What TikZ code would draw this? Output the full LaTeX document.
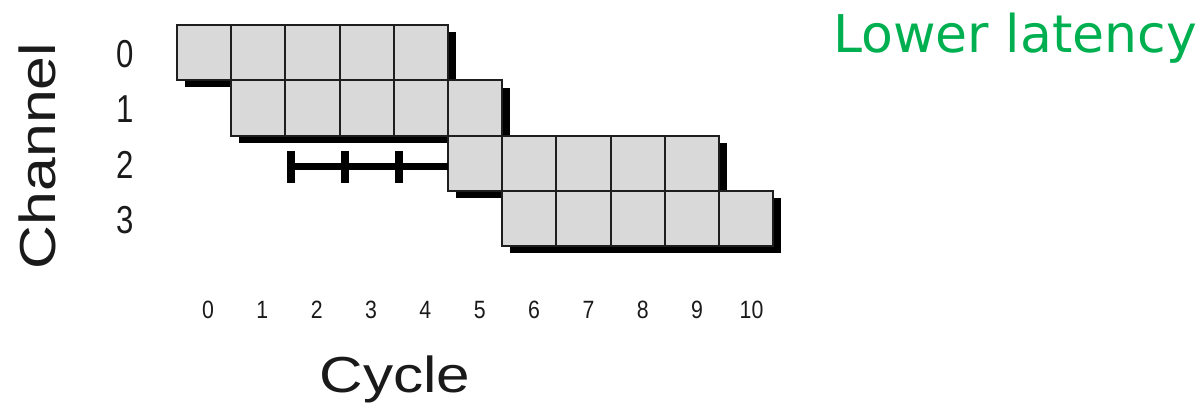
\documentclass[tikz,border=0pt]{standalone}
\usepackage{fontspec}
\setmainfont{Liberation Sans}
\newfontfamily\verdanalike{DejaVu Sans}
\usepackage{tikz}
\usepackage{xcolor}
\usetikzlibrary{shadows,calc}
\definecolor{cellgray} {HTML}{D9D9D9}
\definecolor{cellline} {HTML}{1E1E1E}
\definecolor{lowgreen} {HTML}{00B050}
\definecolor{lblink}   {HTML}{1A1A1A}
\tikzset{
  cellbox/.style  ={draw=cellline, fill=cellgray, line width=1.5pt,
                    minimum width=1.355cm, minimum height=1.38cm,
                    inner sep=0pt, outer sep=0pt,
                    drop shadow={shadow xshift=0.2cm, shadow yshift=-0.18cm,
                                 fill=black, opacity=1}},
  chanlbl/.style  ={font=\fontsize{27.7}{30}\selectfont, inner sep=0pt, text=lblink},
  cyclbl/.style   ={font=\fontsize{17.8}{20}\selectfont, inner sep=0pt, text=lblink},
  axislbl/.style  ={font=\fontsize{36}{40}\selectfont, inner sep=0pt, text=lblink},
  latbar/.style   ={line width=0.175cm, color=black},
  tickbar/.style  ={line width=0.2cm, color=black},
}

\begin{document}
\begin{tikzpicture}[x=0.025cm,y=-0.025cm]
  \useasboundingbox (0,0) rectangle (1201,402);
  % channel rows: row/first cycle
  \foreach \r/\s in {0/0,1/1,2/5,3/6}{
    \node[chanlbl] (ch-\r) at (125,{54+55.3*\r}) {\scalebox{0.8}[1]{\r}};
    \foreach \k in {0,...,4}{
      \pgfmathtruncatemacro{\c}{\s+\k}
      \node[cellbox] (cell-\r-\c) at ({177+54.2*(\c+0.5)},{25+55.3*\r+27.65}) {};
    }
  }
  % cycle numbers
  \foreach \c in {0,...,10}
    \node[cyclbl] (cyc-\c) at ({208+54.35*\c},310) {\scalebox{0.85}[1]{\c}};
  % latency bar in row 2
  \coordinate (barstart) at (291,166);
  \draw[latbar] (barstart) -- (barstart -| cell-2-5.west);
  \foreach \t in {291,345,399}
    \draw[tickbar] (\t,151) -- (\t,183);
  % axis titles
  \node[axislbl, rotate=90] (chantitle) at (37,156) {\scalebox{1.2}[1]{Channel}};
  \node[axislbl, anchor=base] (cyctitle) at (395,392) {\scalebox{1.19}[1]{Cycle}};
  \node[anchor=base west, inner sep=0pt, text=lowgreen,
        font=\verdanalike\fontsize{37}{40}\selectfont] (lowlat) at (833,52) {Lower latency};
\end{tikzpicture}
\end{document}
